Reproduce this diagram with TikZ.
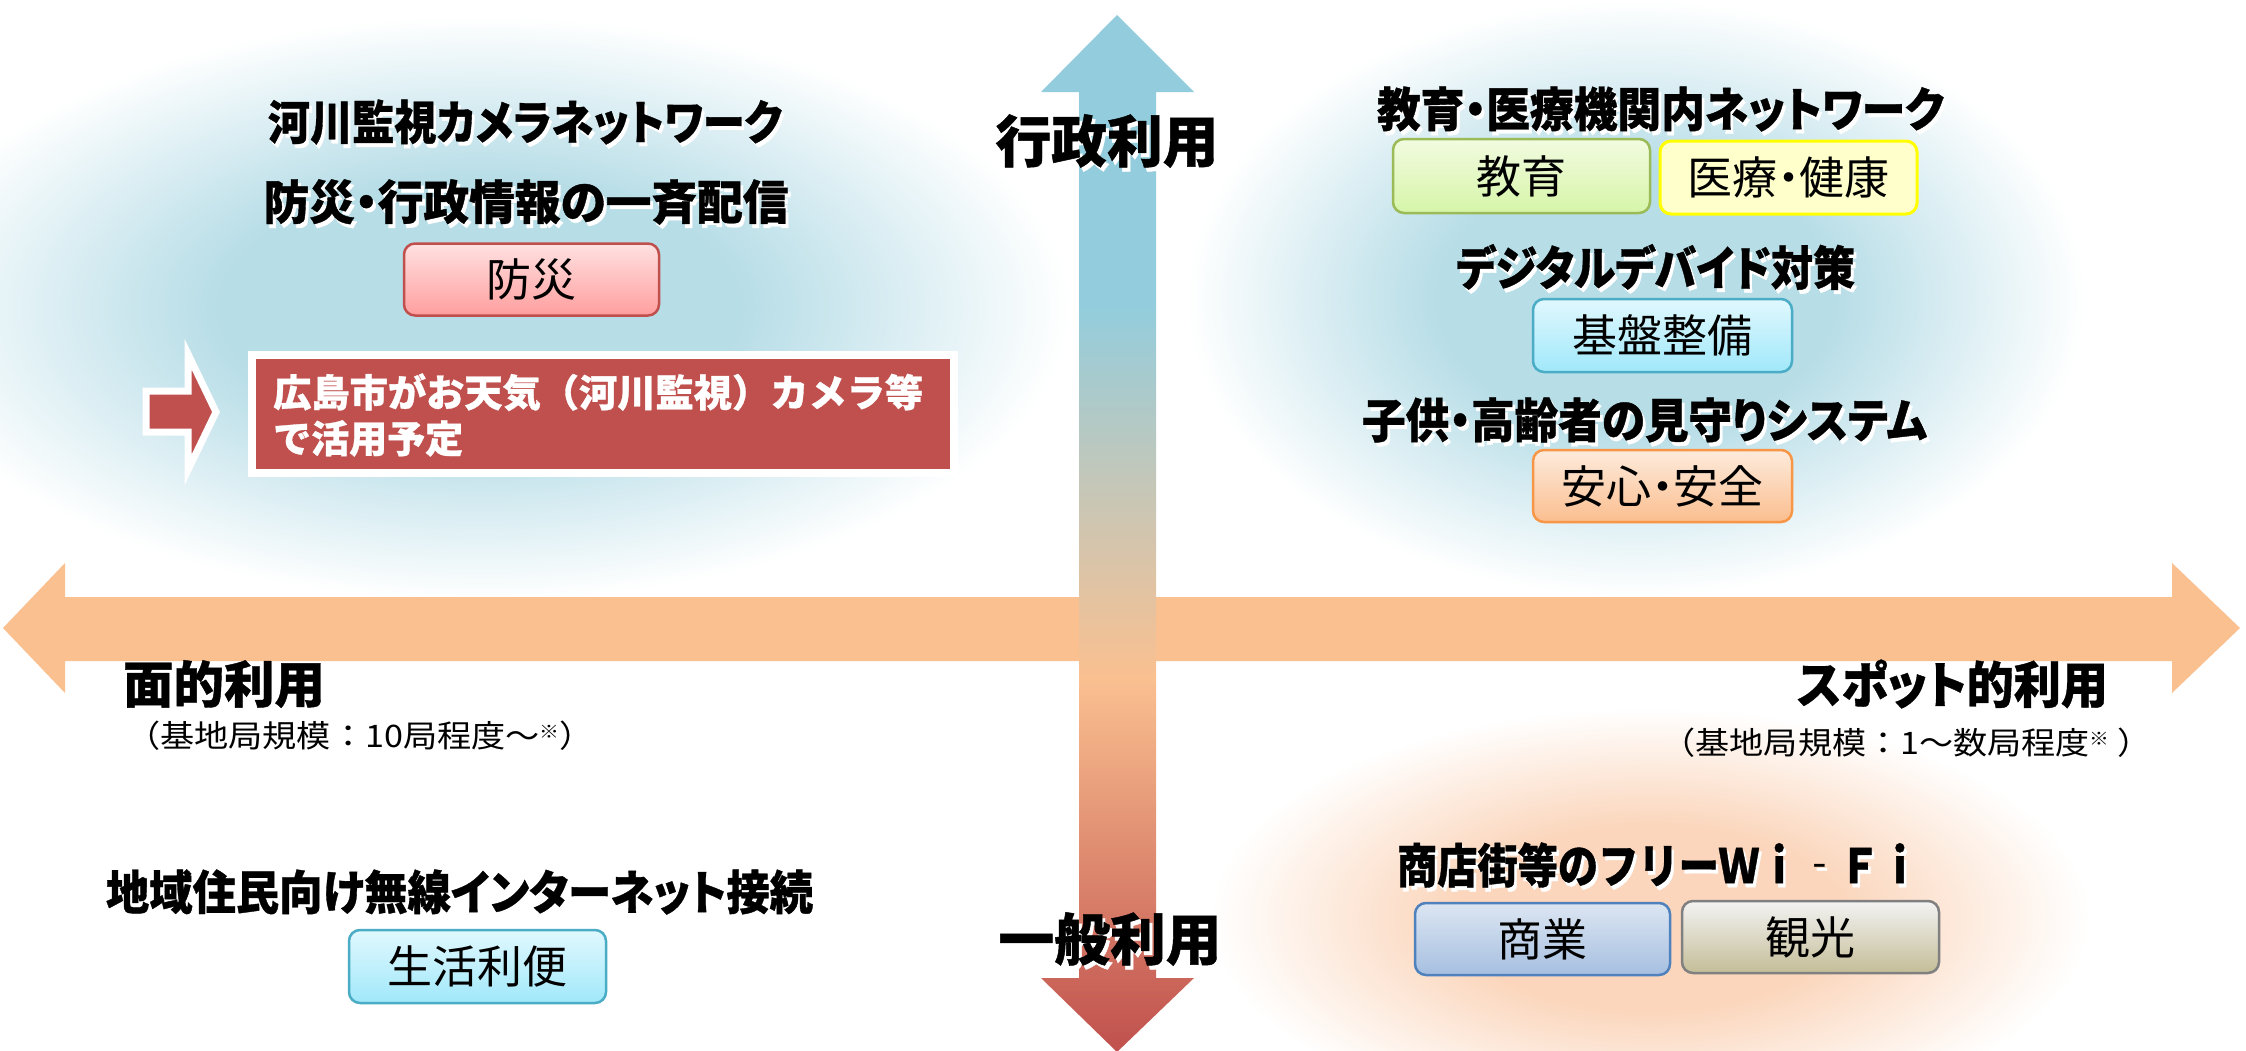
\documentclass[tikz,border=0pt]{standalone}
\usepackage{fontspec}
\usepackage{graphicx}
\newfontfamily\jp{Noto Sans CJK JP}
\newfontfamily\jpp{Noto Sans CJK JP}[RawFeature=+palt]
\newfontfamily\jph{Noto Sans CJK JP}[RawFeature=+palt, BoldFeatures={FakeBold=0.8}]
\newfontfamily\jpb{Noto Sans CJK JP}[BoldFeatures={FakeBold=0.8}]
\definecolor{glowB}{RGB}{183,221,231}
\definecolor{glowO}{RGB}{251,214,188}
\definecolor{axB}{RGB}{147,205,221}
\definecolor{axP}{RGB}{250,192,144}
\definecolor{axR}{RGB}{192,80,77}
\definecolor{harrow}{RGB}{250,192,144}
\definecolor{redM}{RGB}{192,80,77}
\definecolor{pinkT}{RGB}{255,225,225}
\definecolor{pinkB}{RGB}{255,158,158}
\definecolor{greenT}{RGB}{242,251,224}
\definecolor{greenB}{RGB}{214,245,168}
\definecolor{greenD}{RGB}{155,187,89}
\definecolor{yelF}{RGB}{255,255,204}
\definecolor{yelD}{RGB}{255,255,0}
\definecolor{cyanT}{RGB}{225,248,254}
\definecolor{cyanB}{RGB}{160,232,250}
\definecolor{cyanD}{RGB}{75,172,198}
\definecolor{orT}{RGB}{253,235,220}
\definecolor{orB}{RGB}{251,190,143}
\definecolor{orD}{RGB}{247,150,70}
\definecolor{bluT}{RGB}{220,230,242}
\definecolor{bluB}{RGB}{166,191,224}
\definecolor{bluD}{RGB}{79,129,189}
\definecolor{gryT}{RGB}{243,243,243}
\definecolor{gryM}{RGB}{221,221,221}
\definecolor{gryB}{RGB}{196,189,151}
\definecolor{gryD}{RGB}{128,128,128}
\pgfdeclareradialshading{glowblue}{\pgfpoint{0bp}{0bp}}{color(0bp)=(glowB); color(11bp)=(glowB); color(25bp)=(white); color(50bp)=(white)}
\pgfdeclareradialshading{gloworange}{\pgfpoint{0bp}{0bp}}{color(0bp)=(glowO); color(11bp)=(glowO); color(25bp)=(white); color(50bp)=(white)}
\pgfdeclareverticalshading{vaxis}{100bp}{color(0bp)=(axR); color(25bp)=(axR); color(43bp)=(axP); color(61bp)=(axB); color(75bp)=(axB); color(100bp)=(axB)}
\newcommand{\shd}[1]{\makebox[0pt][l]{\kern3pt\raisebox{-4pt}{\color{white}#1}}#1}
\newcommand{\fitw}[2]{\resizebox{#1}{\height}{#2}}
\newcommand{\kome}{\raisebox{9pt}{\fontsize{18}{18}\selectfont ※}}
\begin{document}
\begin{tikzpicture}[x=1pt,y=-1pt,
  hd/.style={inner sep=0pt, font=\jph\bfseries\fontsize{47}{50}\selectfont},
  ax/.style={inner sep=0pt, font=\jph\bfseries\fontsize{56}{60}\selectfont},
  subt/.style={inner sep=0pt, font=\jp\fontsize{31}{36}\selectfont},
  tagbox/.style={rounded corners=11pt, line width=2.5pt, inner sep=0pt,
    minimum width=255pt, minimum height=72pt,
    font=\jpp\fontsize{45}{48}\selectfont},
]
\useasboundingbox (0,0) rectangle (2246,1050);
\fill[white] (0,0) rectangle (2246,1050);
% glows
\shade[shading=glowblue] (480,308) ellipse [x radius=590pt, y radius=292pt];
\shade[shading=glowblue] (1636,298) ellipse [x radius=450pt, y radius=298pt];
\shade[shading=gloworange] (1650,918) ellipse [x radius=440pt, y radius=210pt];
% horizontal axis
\fill[harrow] (65,597) -- (65,563) -- (3,628) -- (65,693) -- (65,661) -- (2172,661)
  -- (2172,693) -- (2240,628) -- (2172,563) -- (2172,597) -- cycle;
% vertical axis
\shade[shading=vaxis] (1079,92) -- (1041,92) -- (1117,15) -- (1194,92) -- (1156,92)
  -- (1156,978) -- (1194,978) -- (1117,1052) -- (1041,978) -- (1079,978) -- cycle;
% left block
\node[hd] (h1) at (525,124) {\fitw{514pt}{\shd{河川監視カメラネットワーク}}};
\node[hd] (h2) at (526,204) {\fitw{525pt}{\shd{防災・行政情報の一斉配信}}};
\node[tagbox, draw=redM, top color=pinkT, bottom color=pinkB] (b1) at (531.5,279.5) {防災};
\draw[white, line width=7pt, fill=redM, line join=miter] (146,391) -- (188,391) -- (188,354)
  -- (216,412) -- (188,470) -- (188,432) -- (146,432) -- cycle;
\node[draw=white, line width=8pt, fill=redM, minimum width=702pt, minimum height=118pt,
  inner sep=0pt] (rbox) at (603,414) {};
\node[anchor=west, align=left, inner sep=0pt, text=white,
  font=\jpb\bfseries\fontsize{38}{46}\selectfont] (rtxt) at (273,415)
  {\fitw{650pt}{広島市がお天気（河川監視）カメラ等}\\で活用予定};
% axis labels
\node[ax] (gyosei) at (1107,143) {\fitw{223pt}{\shd{行政利用}}};
\node[ax] (ippan) at (1110,941) {\fitw{223pt}{\shd{一般利用}}};
\node[hd, font=\jph\bfseries\fontsize{50}{54}\selectfont] (men) at (224,686) {\fitw{202pt}{\shd{面的利用}}};
\node[subt] (s1) at (360,736) {\fitw{468pt}{（基地局規模：10局程度～\kome）}};
\node[hd, font=\jph\bfseries\fontsize{50}{54}\selectfont] (spot) at (1952.5,686) {\fitw{311pt}{\shd{スポット的利用}}};
\node[subt] (s2) at (1906.5,743) {\fitw{490pt}{（基地局規模：1～数局程度\kome\ ）}};
% lower left
\node[hd] (h3) at (459.5,894) {\fitw{707pt}{\shd{地域住民向け無線インターネット接続}}};
\node[tagbox, draw=cyanD, top color=cyanT, bottom color=cyanB, minimum width=257pt, minimum height=73pt] (b2) at (477.5,966.5) {生活利便};
% right upper
\node[hd] (h4) at (1660.5,111) {\fitw{567pt}{\shd{教育・医療機関内ネットワーク}}};
\node[tagbox, draw=greenD, top color=greenT, bottom color=greenB, minimum width=257pt, minimum height=74pt] (b3) at (1521.5,176) {教育};
\node[tagbox, draw=yelD, fill=yelF, line width=3pt, minimum width=257pt, minimum height=73pt] (b4) at (1788.5,177.5) {医療・健康};
\node[hd] (h5) at (1655.5,269) {\fitw{399pt}{\shd{デジタルデバイド対策}}};
\node[tagbox, draw=cyanD, top color=cyanT, bottom color=cyanB, minimum width=259pt, minimum height=73pt] (b5) at (1662.5,335.5) {基盤整備};
\node[hd] (h6) at (1644.5,422) {\fitw{565pt}{\shd{子供・高齢者の見守りシステム}}};
\node[tagbox, draw=orD, top color=orT, bottom color=orB, minimum width=259pt, minimum height=72pt] (b6) at (1662.5,486) {安心・安全};
% right lower
\node[hd, font=\jpb\bfseries\fontsize{47}{50}\selectfont] (h7) at (1658.5,867) {\fitw{523pt}{\shd{商店街等のフリーＷｉ‐Ｆｉ}}};
\node[tagbox, draw=bluD, top color=bluT, bottom color=bluB] (b7) at (1542.5,939) {商業};
\node[tagbox, draw=gryD, top color=gryT, middle color=gryM, bottom color=gryB, minimum width=257pt] (b8) at (1810.5,937) {観光};
\end{tikzpicture}
\end{document}
